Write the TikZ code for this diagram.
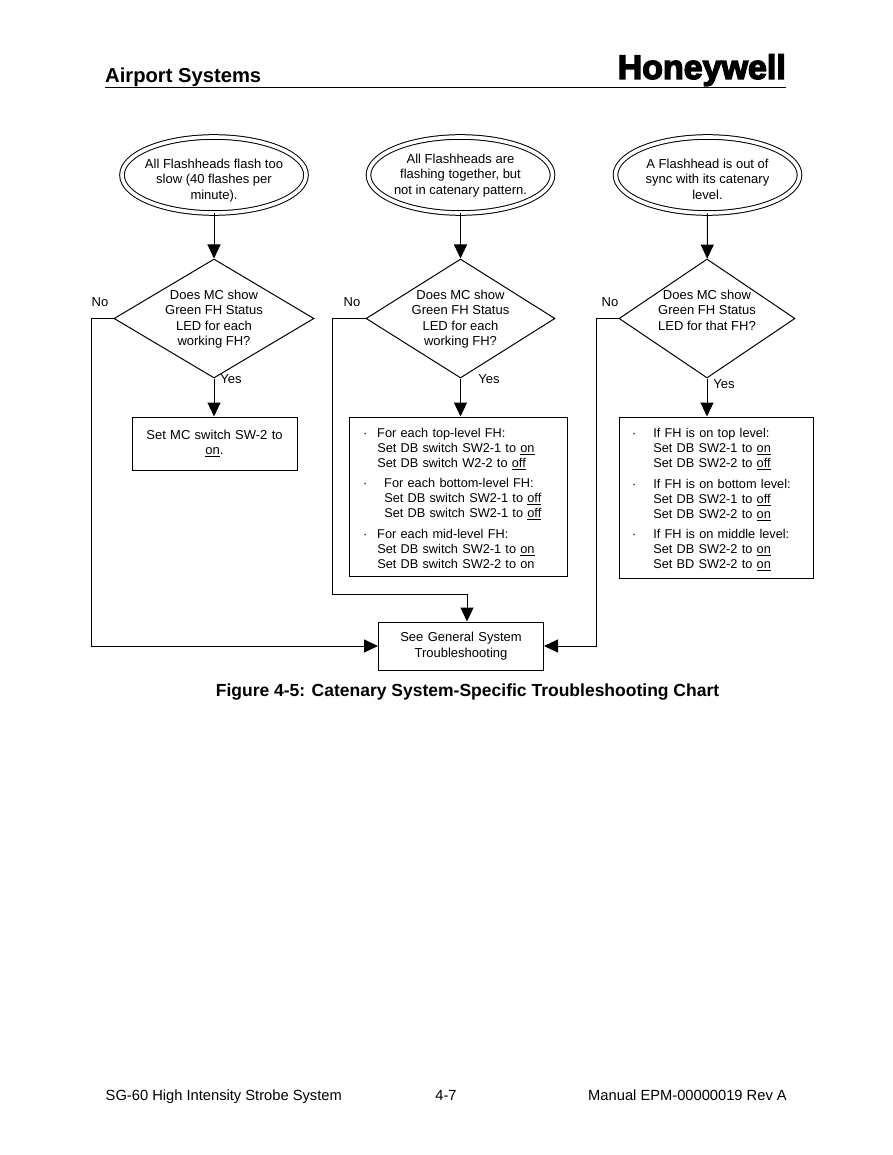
\documentclass[tikz,border=0pt]{standalone}
\usepackage{fontspec}
\setmainfont{Liberation Sans}
\newfontfamily\logofont[FakeBold=4]{Liberation Sans Bold}
\usetikzlibrary{shapes.geometric,arrows.meta}
\tikzset{
  startoval/.style={ellipse,draw,double,double distance=3.6pt,line width=1pt,minimum width=184pt,minimum height=76pt,inner sep=0pt},
  askdiamond/.style n args={3}{diamond,draw,line width=1pt,minimum width=#1,minimum height=#2,aspect=#3,inner sep=0pt,align=center},
  actionbox/.style={rectangle,draw,line width=1pt,align=left,inner ysep=0pt},
  tag/.style={inner sep=0pt}
}
\newcommand{\steplist}[1]{\begin{tabular}{@{}l@{}l@{}}#1\end{tabular}}
\newcommand{\midtext}[1]{\makebox[0pt]{\begin{tabular}{@{}c@{}}#1\end{tabular}}}
\newcommand{\ovaltext}[2]{\smash{\raisebox{#1}{\midtext{#2}}}}
\begin{document}
\begin{tikzpicture}[x=1pt,y=-1pt,font=\fontsize{13}{15.3}\selectfont]
      \useasboundingbox (0,0) rectangle (892,1155);
      \node[tag,anchor=base west,font=\fontsize{20.2}{24}\selectfont\bfseries] (area) at (105,83) {Airport Systems};
      \node[tag,anchor=base east,font=\fontsize{34}{36}\logofont] (logo) at (786,79) {Honeywell};
      \coordinate (rulel) at (105,87.5);
      \coordinate (ruler) at (786,87.5);
      \draw[line width=1.5pt] (rulel) -- (ruler);
      \begin{scope}[every node/.style={startoval}]
        \node (e1) at (214,175) {\ovaltext{-8.75pt}{All Flashheads flash too\\slow (40 flashes per\\minute).}};
        \node (e2) at (460.5,175) {\ovaltext{-3.75pt}{All Flashheads are\\flashing together, but\\not in catenary pattern.}};
        \node (e3) at (707.5,175) {\ovaltext{-8.75pt}{A Flashhead is out of\\sync with its catenary\\level.}};
      \end{scope}
      \node[askdiamond={200pt}{119pt}{1.68}] (d1) at (214,318.5) {\midtext{\rule{0pt}{12.7pt}Does MC show\\Green FH Status\\LED for each\\working FH?}};
      \node[askdiamond={189pt}{119pt}{1.59}] (d2) at (460.5,318.5) {\midtext{\rule{0pt}{12.7pt}Does MC show\\Green FH Status\\LED for each\\working FH?}};
      \node[askdiamond={176pt}{119pt}{1.48}] (d3) at (707,318.5) {\midtext{\rule{0pt}{12.7pt}Does MC show\\Green FH Status\\LED for that FH?\\\mbox{}}};
      \node[actionbox,minimum width=165pt,minimum height=53pt,align=center,text width=150pt] (b1) at (214.5,443.5) {Set MC switch SW-2 to\\\underline{on}.};
      \node[actionbox,minimum height=159pt,text width=190pt,inner xsep=14pt,font=\fontsize{12.75}{15}\selectfont] (b2) at (458,496.5) {\steplist{
        ·\hspace{10pt}\rule{0pt}{17pt} & For each top-level FH:\\
         & Set DB switch SW2-1 to \underline{on}\\
         & Set DB switch W2-2 to \underline{off}\\[5.5pt]
        · & \hspace{7pt}For each bottom-level FH:\\
         & \hspace{7pt}Set DB switch SW2-1 to \underline{off}\\
         & \hspace{7pt}Set DB switch SW2-1 to \underline{off}\\[5.5pt]
        · & For each mid-level FH:\\
         & Set DB switch SW2-1 to \underline{on}\\
         & Set DB switch SW2-2 to on}};
      \node[actionbox,minimum height=161pt,text width=168pt,inner xsep=13pt,font=\fontsize{12.75}{15}\selectfont] (b3) at (716,497.5) {\steplist{
        ·\hspace{17pt}\rule{0pt}{16pt} & If FH is on top level:\\
         & Set DB SW2-1 to \underline{on}\\
         & Set DB SW2-2 to \underline{off}\\[5.5pt]
        · & If FH is on bottom level:\\
         & Set DB SW2-1 to \underline{off}\\
         & Set DB SW2-2 to \underline{on}\\[5.5pt]
        · & If FH is on middle level:\\
         & Set DB SW2-2 to \underline{on}\\
         & Set BD SW2-2 to \underline{on}}};
      \node[actionbox,minimum width=165pt,minimum height=48pt,align=center,text width=150pt] (end) at (461,646) {See General System\\Troubleshooting};
      \node[tag] (no1) at (100,302) {No};
      \node[tag] (no2) at (352,302) {No};
      \node[tag] (no3) at (610,302) {No};
      \node[tag] (yes1) at (231,379) {Yes};
      \node[tag] (yes2) at (489,379) {Yes};
      \node[tag] (yes3) at (724,384) {Yes};
      \node[tag,font=\fontsize{17.5}{20}\selectfont\bfseries] (caption) at (467.5,692) {Figure 4-5: Catenary System-Specific Troubleshooting Chart};
      \node[tag,anchor=base west,font=\fontsize{14.7}{16}\selectfont] (footl) at (105.5,1100) {SG-60 High Intensity Strobe System};
      \node[tag,anchor=base,font=\fontsize{14.7}{16}\selectfont] (footm) at (446,1100) {4-7};
      \node[tag,anchor=base east,font=\fontsize{14.7}{16}\selectfont] (footr) at (787,1100) {Manual EPM-00000019 Rev A};
      \coordinate (n1a) at (91,318.5);
      \coordinate (n2a) at (332,318.5);
      \coordinate (n2b) at (332,594);
      \coordinate (n2c) at (467,594);
      \coordinate (n3a) at (596,318.5);
      \begin{scope}[every edge/.style={draw,line width=1pt,-{Triangle[width=13pt,length=14pt]}}]
        \path (e1) edge (d1);
        \path (e2) edge (d2);
        \path (e3) edge (d3);
        \path (d1.south) edge (d1.south |- b1.north);
        \path (d2.south) edge (d2.south |- b2.north);
        \path (d3.south) edge (d3.south |- b3.north);
      \end{scope}
      \begin{scope}[line width=1pt,-{Triangle[width=13pt,length=14pt]}]
        \draw (d1.west) -- (n1a) |- (end.west);
        \draw (d2.west) -- (n2a) -- (n2b) -- (n2c) -- (n2c |- end.north);
        \draw (d3.west) -- (n3a) |- (end.east);
      \end{scope}
    \end{tikzpicture}
\end{document}
